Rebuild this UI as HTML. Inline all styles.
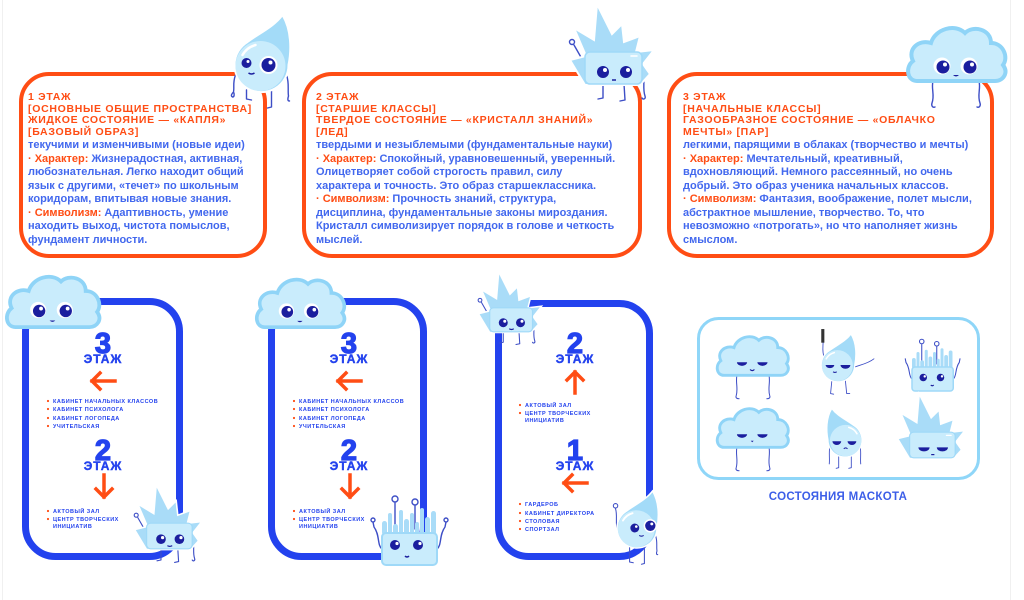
<!DOCTYPE html>
<html><head><meta charset="utf-8">
<style>
html,body{margin:0;padding:0;background:#fff;}
body{width:1024px;height:600px;position:relative;overflow:hidden;font-family:"Liberation Sans","DejaVu Sans",sans-serif;}
svg.main{position:absolute;left:0;top:0;}
.t{position:absolute;white-space:nowrap;}
.h{font-weight:bold;color:#ff4d14;font-size:10.5px;line-height:11.5px;letter-spacing:0.7px;}
.b{font-weight:bold;color:#4268ee;font-size:11px;line-height:13.5px;}
.b span{color:#ff4d14;}
.lm{stroke:#3d4ec6;stroke-width:1.4;fill:none;stroke-linecap:round;stroke-linejoin:round;}
</style></head><body>
<svg class="main" width="1024" height="600" viewBox="0 0 1024 600">
<line x1="2.5" y1="0" x2="2.5" y2="600" stroke="#f0f0f0" stroke-width="1"/>
<line x1="1010.5" y1="0" x2="1010.5" y2="600" stroke="#f0f0f0" stroke-width="1"/>

<!-- cards -->
<g fill="none" stroke="#ff4d14" stroke-width="4">
<rect x="21" y="74" width="244" height="182" rx="28"/>
<rect x="304" y="74" width="336" height="182" rx="28"/>
<rect x="669" y="74" width="323" height="182" rx="28"/>
</g>

<!-- signs -->
<g fill="none" stroke="#2342ee" stroke-width="7">
<rect x="25.5" y="301.5" width="154" height="255" rx="30"/>
<rect x="271.5" y="301.5" width="152" height="255" rx="30"/>
<rect x="498.5" y="303.5" width="151" height="253" rx="30"/>
</g>
<rect x="698.5" y="318.5" width="280" height="160" rx="20" fill="none" stroke="#8fd6f8" stroke-width="3"/>
<text x="838" y="500" font-family="Liberation Sans, sans-serif" font-size="11.5" font-weight="bold" fill="#3c5ee8" text-anchor="middle" letter-spacing="0.3">СОСТОЯНИЯ МАСКОТА</text>

<!-- sign texts -->
<g font-family="Liberation Sans, sans-serif" font-weight="bold" fill="#2342ee" text-anchor="middle">
<g stroke="#2342ee" stroke-width="1.3">
<text x="103" y="353" font-size="29">3</text>
<text x="103" y="460" font-size="29">2</text>
<text x="349" y="353" font-size="29">3</text>
<text x="349" y="460" font-size="29">2</text>
<text x="575" y="353" font-size="29">2</text>
<text x="575" y="460" font-size="29">1</text>
</g>
<g stroke="#2342ee" stroke-width="0.4">
<text x="103" y="363" font-size="12" letter-spacing="1">ЭТАЖ</text>
<text x="103" y="470" font-size="12" letter-spacing="1">ЭТАЖ</text>
<text x="349" y="363" font-size="12" letter-spacing="1">ЭТАЖ</text>
<text x="349" y="470" font-size="12" letter-spacing="1">ЭТАЖ</text>
<text x="575" y="363" font-size="12" letter-spacing="1">ЭТАЖ</text>
<text x="575" y="470" font-size="12" letter-spacing="1">ЭТАЖ</text>
</g>
</g>
<g font-family="Liberation Sans, sans-serif" font-weight="bold" fill="#2342ee" font-size="5.5" letter-spacing="0.5">
<text x="53" y="403">КАБИНЕТ НАЧАЛЬНЫХ КЛАССОВ</text>
<text x="53" y="411">КАБИНЕТ ПСИХОЛОГА</text>
<text x="53" y="420">КАБИНЕТ ЛОГОПЕДА</text>
<text x="53" y="428">УЧИТЕЛЬСКАЯ</text>
<text x="53" y="513">АКТОВЫЙ ЗАЛ</text>
<text x="53" y="521">ЦЕНТР ТВОРЧЕСКИХ</text>
<text x="53" y="528">ИНИЦИАТИВ</text>
<text x="299" y="403">КАБИНЕТ НАЧАЛЬНЫХ КЛАССОВ</text>
<text x="299" y="411">КАБИНЕТ ПСИХОЛОГА</text>
<text x="299" y="420">КАБИНЕТ ЛОГОПЕДА</text>
<text x="299" y="428">УЧИТЕЛЬСКАЯ</text>
<text x="299" y="513">АКТОВЫЙ ЗАЛ</text>
<text x="299" y="521">ЦЕНТР ТВОРЧЕСКИХ</text>
<text x="299" y="528">ИНИЦИАТИВ</text>
<text x="525" y="407">АКТОВЫЙ ЗАЛ</text>
<text x="525" y="415">ЦЕНТР ТВОРЧЕСКИХ</text>
<text x="525" y="422">ИНИЦИАТИВ</text>
<text x="525" y="506">ГАРДЕРОБ</text>
<text x="525" y="515">КАБИНЕТ ДИРЕКТОРА</text>
<text x="525" y="523">СТОЛОВАЯ</text>
<text x="525" y="531">СПОРТЗАЛ</text>
</g>
<g fill="#ff4d14">
<circle cx="48" cy="401" r="1.1"/><circle cx="48" cy="409" r="1.1"/><circle cx="48" cy="418" r="1.1"/><circle cx="48" cy="426" r="1.1"/>
<circle cx="48" cy="511" r="1.1"/><circle cx="48" cy="519" r="1.1"/>
<circle cx="294" cy="401" r="1.1"/><circle cx="294" cy="409" r="1.1"/><circle cx="294" cy="418" r="1.1"/><circle cx="294" cy="426" r="1.1"/>
<circle cx="294" cy="511" r="1.1"/><circle cx="294" cy="519" r="1.1"/>
<circle cx="520" cy="405" r="1.1"/><circle cx="520" cy="413" r="1.1"/>
<circle cx="520" cy="504" r="1.1"/><circle cx="520" cy="513" r="1.1"/><circle cx="520" cy="521" r="1.1"/><circle cx="520" cy="529" r="1.1"/>
</g>
<!-- arrows -->
<g fill="none" stroke="#ff4d14" stroke-width="3.5" stroke-linecap="square">
<path d="M92,381 H115 M100,373 L92,381 L100,389"/>
<path d="M104,475 V497 M96,489 L104,497 L112,489"/>
<path d="M338,381 H361 M346,373 L338,381 L346,389"/>
<path d="M350,475 V497 M342,489 L350,497 L358,489"/>
<path d="M575,372 V393 M567,380 L575,372 L583,380"/>
<path d="M564,483 H587 M572,475 L564,483 L572,491"/>
</g>

<!-- ===== Mascots ===== -->
<!-- drop top (card1) -->
<g transform="translate(261.5,65)">
<g class="lm">
<path d="M-26,10 C-29,18 -27,22 -28,27 c-2,2 -3,4 -1,5 c2,0 2,-3 1,-5"/>
<path d="M25,10 C28,18 26,25 27,31 c-1,3 -1,5 1,5"/>
<path d="M-15,25 L-15,34 l5,1"/>
<path d="M10,26 L10,42 l-4,1"/>
</g>
<path d="M21,-50 C30,-35 30,-15 27,0 A27,27 0 1 1 -14,-23 C-2,-32 12,-38 21,-50Z" fill="#a3dbf8" stroke="#fff" stroke-width="2"/>
<circle cx="-1" cy="1" r="25" fill="#c9ecfc"/>
<path d="M-19,-10 A21,21 0 0 1 -6,-20" stroke="#fff" stroke-width="2.5" fill="none" stroke-linecap="round"/>
<circle cx="-15" cy="-2" r="5" fill="#1b1e9e"/><circle cx="-13.5" cy="-3.5" r="1.5" fill="#fff"/>
<circle cx="7" cy="0" r="9" fill="#fff"/><circle cx="7" cy="0" r="7" fill="#1b1e9e"/><circle cx="9" cy="-2.5" r="2" fill="#fff"/>
<path d="M-13,8 q3,2 6,0" stroke="#1b1e9e" stroke-width="1.5" fill="none"/>
</g>

<!-- crystal top (card2) -->
<g transform="translate(568,3)">
<g class="lm">
<path d="M14,56 L6,42"/><circle cx="4" cy="39" r="2.5"/>
<path d="M35,81 L35,95 l-5,1"/>
<path d="M56,81 L57,97 l-5,1"/>
<path d="M74,66 C78,75 74,85 77,93 c1,3 -2,4 -3,2"/>
</g>
<polygon points="17,82 2,57 18,53 6,25 26,37 29,1 44,31 54,21 56,39 72,33 68,49 86,47 75,61 82,71 72,82" fill="#a9dcf8" stroke="#fff" stroke-width="2"/>
<rect x="17" y="49" width="57" height="32" rx="5" fill="#c9ecfc" stroke="#9fd9f8" stroke-width="1.5"/>
<path d="M63,53 h6" stroke="#fff" stroke-width="1.5" stroke-linecap="round"/>
<circle cx="35" cy="69" r="6" fill="#1b1e9e"/><circle cx="37" cy="67" r="2" fill="#fff"/>
<circle cx="58" cy="69" r="6" fill="#1b1e9e"/><circle cx="60" cy="67" r="2" fill="#fff"/>
<path d="M44,77 h4" stroke="#1b1e9e" stroke-width="1.5"/>
</g>

<!-- cloud top (card3) -->
<g transform="translate(905,23)">
<g class="lm">
<path d="M28,58 c-2,8 2,14 -1,22 c-1,3 1,5 3,4"/>
<path d="M74,58 c2,8 -2,14 1,22 c1,3 -1,5 -3,4"/>
</g>
<path d="M12,58 C2,58 0,44 8,38 C2,26 14,16 26,20 C30,6 50,0 60,10 C68,2 86,6 86,20 C98,20 104,34 98,42 C104,50 98,58 90,58 Z" fill="#c9ecfc" stroke="#8fd4f7" stroke-width="4"/>
<circle cx="37" cy="43" r="8.5" fill="#fff"/><circle cx="38" cy="44" r="6.5" fill="#1b1e9e"/><circle cx="40" cy="41.5" r="2" fill="#fff"/>
<circle cx="64" cy="43" r="8.5" fill="#fff"/><circle cx="65" cy="44" r="6.5" fill="#1b1e9e"/><circle cx="67" cy="41.5" r="2" fill="#fff"/>
<path d="M48,52 q3,3 6,0 z" fill="#1b1e9e"/>
</g>

<!-- cloud sign1 -->
<g transform="translate(4,272) scale(0.95)">
<path d="M12,58 C2,58 0,44 8,38 C2,26 14,16 26,20 C30,6 50,0 60,10 C68,2 86,6 86,20 C98,20 104,34 98,42 C104,50 98,58 90,58 Z" fill="#c9ecfc" stroke="#8fd4f7" stroke-width="4"/>
<circle cx="36" cy="40" r="8.5" fill="#fff"/><circle cx="37" cy="41" r="6.5" fill="#1b1e9e"/><circle cx="39" cy="38.5" r="2" fill="#fff"/>
<circle cx="64" cy="40" r="8.5" fill="#fff"/><circle cx="65" cy="41" r="6.5" fill="#1b1e9e"/><circle cx="67" cy="38.5" r="2" fill="#fff"/>
<path d="M48,51 q3,3 6,0 z" fill="#1b1e9e"/>
</g>
<!-- cloud sign2 -->
<g transform="translate(254,275) scale(0.9)">
<path d="M12,58 C2,58 0,44 8,38 C2,26 14,16 26,20 C30,6 50,0 60,10 C68,2 86,6 86,20 C98,20 104,34 98,42 C104,50 98,58 90,58 Z" fill="#c9ecfc" stroke="#8fd4f7" stroke-width="4"/>
<circle cx="36" cy="40" r="8.5" fill="#fff"/><circle cx="37" cy="41" r="6.5" fill="#1b1e9e"/><circle cx="39" cy="38.5" r="2" fill="#fff"/>
<circle cx="64" cy="40" r="8.5" fill="#fff"/><circle cx="65" cy="41" r="6.5" fill="#1b1e9e"/><circle cx="67" cy="38.5" r="2" fill="#fff"/>
<path d="M48,51 q3,3 6,0 z" fill="#1b1e9e"/>
</g>

<!-- crystal sign1 -->
<g transform="translate(133,484) scale(0.8)">
<g class="lm">
<path d="M14,56 L6,42"/><circle cx="4" cy="39" r="2.5"/>
<path d="M35,81 L35,95 l-5,1"/>
<path d="M56,81 L57,97 l-5,1"/>
<path d="M74,66 C78,75 74,85 77,93 c1,3 -2,4 -3,2"/>
</g>
<polygon points="17,82 2,57 18,53 6,25 26,37 29,1 44,31 54,21 56,39 72,33 68,49 86,47 75,61 82,71 72,82" fill="#a9dcf8" stroke="#fff" stroke-width="2"/>
<rect x="17" y="49" width="57" height="32" rx="5" fill="#c9ecfc" stroke="#9fd9f8" stroke-width="1.5"/>
<circle cx="35" cy="69" r="6" fill="#1b1e9e"/><circle cx="37" cy="67" r="2" fill="#fff"/>
<circle cx="58" cy="69" r="6" fill="#1b1e9e"/><circle cx="60" cy="67" r="2" fill="#fff"/>
<path d="M43,77 q3,2 6,0" stroke="#1b1e9e" stroke-width="1.5" fill="none"/>
</g>

<!-- crystal sign3 -->
<g transform="translate(477,271) scale(0.75)">
<g class="lm">
<path d="M14,56 L6,42"/><circle cx="4" cy="39" r="2.5"/>
<path d="M35,81 L35,95 l-5,1"/>
<path d="M56,81 L57,97 l-5,1"/>
<path d="M74,66 C78,75 74,85 77,93 c1,3 -2,4 -3,2"/>
</g>
<polygon points="17,82 2,57 18,53 6,25 26,37 29,1 44,31 54,21 56,39 72,33 68,49 86,47 75,61 82,71 72,82" fill="#a9dcf8" stroke="#fff" stroke-width="2"/>
<rect x="17" y="49" width="57" height="32" rx="5" fill="#c9ecfc" stroke="#9fd9f8" stroke-width="1.5"/>
<circle cx="35" cy="69" r="6" fill="#1b1e9e"/><circle cx="37" cy="67" r="2" fill="#fff"/>
<circle cx="58" cy="69" r="6" fill="#1b1e9e"/><circle cx="60" cy="67" r="2" fill="#fff"/>
<path d="M43,77 q3,2 6,0" stroke="#1b1e9e" stroke-width="1.5" fill="none"/>
</g>

<!-- ice sign2 -->
<g transform="translate(382,533)">
<g class="lm">
<path d="M13,-6 L13,-30"/><circle cx="13" cy="-34" r="3"/>
<path d="M33,-4 L33,-27"/><circle cx="33" cy="-31" r="3"/>
<path d="M0,16 c-5,-4 -2,-14 -8,-22 l-1,-5"/><circle cx="-9" cy="-13" r="2"/>
<path d="M55,16 c5,-4 2,-14 8,-22 l1,-5"/><circle cx="64" cy="-13" r="2"/>
</g>
<g fill="#a9dcf8">
<rect x="0" y="-12" width="5" height="14" rx="2.5"/>
<rect x="6" y="-20" width="4" height="22" rx="2"/>
<rect x="11" y="-9" width="5" height="11" rx="2.5"/>
<rect x="17" y="-23" width="4" height="25" rx="2"/>
<rect x="22" y="-14" width="5" height="16" rx="2.5"/>
<rect x="28" y="-20" width="4" height="22" rx="2"/>
<rect x="33" y="-11" width="4" height="13" rx="2"/>
<rect x="38" y="-25" width="4" height="27" rx="2"/>
<rect x="43" y="-16" width="5" height="18" rx="2.5"/>
<rect x="49" y="-22" width="5" height="24" rx="2.5"/>
</g>
<rect x="0" y="0" width="55" height="32" rx="4" fill="#c9ecfc" stroke="#9fd9f8" stroke-width="2"/>
<circle cx="13" cy="12" r="5" fill="#1b1e9e"/><circle cx="15" cy="10.5" r="1.6" fill="#fff"/>
<circle cx="36" cy="12" r="5" fill="#1b1e9e"/><circle cx="38" cy="10.5" r="1.6" fill="#fff"/>
<path d="M23,23 q2,2 4,0" stroke="#1b1e9e" stroke-width="1.5" fill="none"/>
</g>

<!-- drop sign3 -->
<g transform="translate(637,528) scale(0.74)">
<g class="lm">
<path d="M-26,4 C-30,-6 -26,-16 -29,-26"/><circle cx="-29" cy="-30" r="3"/>
<path d="M25,10 C28,18 26,25 27,31 c-1,3 -1,5 1,5"/>
<path d="M-10,26 L-10,46 l5,1"/>
<path d="M10,26 L10,48 l-4,1"/>
</g>
<path d="M21,-50 C30,-35 30,-15 27,0 A27,27 0 1 1 -14,-23 C-2,-32 12,-38 21,-50Z" fill="#a3dbf8" stroke="#fff" stroke-width="2"/>
<circle cx="-1" cy="1" r="25" fill="#c9ecfc"/>
<path d="M-19,-10 A21,21 0 0 1 -6,-20" stroke="#fff" stroke-width="2.5" fill="none" stroke-linecap="round"/>
<circle cx="-3" cy="0" r="6" fill="#1b1e9e"/><circle cx="-1" cy="-2" r="1.8" fill="#fff"/>
<circle cx="18" cy="-3" r="9" fill="#fff"/><circle cx="18" cy="-3" r="7" fill="#1b1e9e"/><circle cx="20" cy="-5.5" r="2" fill="#fff"/>
<path d="M3,10 q3,2 6,0" stroke="#1b1e9e" stroke-width="1.5" fill="none"/>
</g>

<!-- box: cloud1 -->
<g transform="translate(715,333) scale(0.73)">
<g class="lm">
<path d="M30,58 c-2,10 2,18 -1,28 c-1,3 1,4 4,4"/>
<path d="M74,58 c2,10 -2,18 1,28 c1,3 -1,4 -4,4"/>
</g>
<path d="M12,58 C2,58 0,44 8,38 C2,26 14,16 26,20 C30,6 50,0 60,10 C68,2 86,6 86,20 C98,20 104,34 98,42 C104,50 98,58 90,58 Z" fill="#c9ecfc" stroke="#8fd4f7" stroke-width="4"/>
<path d="M30,40 a7,5 0 0 0 14,0 z" fill="#1b1e9e"/>
<path d="M58,40 a7,5 0 0 0 14,0 z" fill="#1b1e9e"/>
<path d="M48,50 q3,3 6,0" stroke="#1b1e9e" stroke-width="1.6" fill="none"/>
</g>
<!-- box: cloud2 -->
<g transform="translate(715,405) scale(0.73)">
<g class="lm">
<path d="M30,58 c-2,10 2,18 -1,28 c-1,3 1,4 4,4"/>
<path d="M74,58 c2,10 -2,18 1,28 c1,3 -1,4 -4,4"/>
</g>
<path d="M12,58 C2,58 0,44 8,38 C2,26 14,16 26,20 C30,6 50,0 60,10 C68,2 86,6 86,20 C98,20 104,34 98,42 C104,50 98,58 90,58 Z" fill="#c9ecfc" stroke="#8fd4f7" stroke-width="4"/>
<path d="M30,40 a7,5 0 0 0 14,0 z" fill="#1b1e9e"/>
<path d="M58,40 a7,5 0 0 0 14,0 z" fill="#1b1e9e"/>
<path d="M49,49 l2,2 l2,-2 z" fill="#1b1e9e"/>
</g>

<!-- box: drop1 -->
<g transform="translate(838,365) scale(0.62)">
<g class="lm" stroke-width="2">
<path d="M-22,-12 C-26,-20 -24,-30 -24,-38"/>
<path d="M25,4 C35,0 48,-2 58,-10"/>
<path d="M-10,26 L-12,46 l5,1"/>
<path d="M12,26 L14,46 l5,0"/>
</g>
<rect x="-27" y="-58" width="5" height="22" fill="#333" />
<path d="M21,-50 C30,-35 30,-15 27,0 A27,27 0 1 1 -14,-23 C-2,-32 12,-38 21,-50Z" fill="#a3dbf8" stroke="#fff" stroke-width="2"/>
<circle cx="-1" cy="1" r="25" fill="#c9ecfc"/>
<path d="M-19,-10 A21,21 0 0 1 -6,-20" stroke="#fff" stroke-width="2.5" fill="none" stroke-linecap="round"/>
<path d="M-20,0 a7,5 0 0 0 14,0 z" fill="#1b1e9e"/>
<path d="M4,0 a8,6 0 0 0 16,0 z" fill="#1b1e9e"/>
<path d="M-8,11 q3,2 6,0" stroke="#1b1e9e" stroke-width="1.6" fill="none"/>
</g>

<!-- box: ice1 -->
<g transform="translate(912,367) scale(0.75)">
<g class="lm" stroke-width="1.8">
<path d="M13,-6 L13,-30"/><circle cx="13" cy="-34" r="3"/>
<path d="M33,-4 L33,-27"/><circle cx="33" cy="-31" r="3"/>
<path d="M0,16 c-5,-4 -2,-14 -8,-22 l-1,-5"/>
<path d="M55,16 c5,-4 2,-14 8,-22 l1,-5"/>
</g>
<g fill="#a9dcf8">
<rect x="0" y="-12" width="5" height="14" rx="2.5"/>
<rect x="6" y="-20" width="4" height="22" rx="2"/>
<rect x="11" y="-9" width="5" height="11" rx="2.5"/>
<rect x="17" y="-23" width="4" height="25" rx="2"/>
<rect x="22" y="-14" width="5" height="16" rx="2.5"/>
<rect x="28" y="-20" width="4" height="22" rx="2"/>
<rect x="33" y="-11" width="4" height="13" rx="2"/>
<rect x="38" y="-25" width="4" height="27" rx="2"/>
<rect x="43" y="-16" width="5" height="18" rx="2.5"/>
<rect x="49" y="-22" width="5" height="24" rx="2.5"/>
</g>
<rect x="0" y="0" width="55" height="32" rx="4" fill="#c9ecfc" stroke="#9fd9f8" stroke-width="2"/>
<circle cx="15" cy="14" r="5" fill="#1b1e9e"/><circle cx="17" cy="12.5" r="1.6" fill="#fff"/>
<circle cx="38" cy="14" r="5" fill="#1b1e9e"/><circle cx="40" cy="12.5" r="1.6" fill="#fff"/>
<path d="M25,24 q2,2 4,0" stroke="#1b1e9e" stroke-width="1.5" fill="none"/>
</g>

<!-- box: drop2 sad (mirrored) -->
<g transform="translate(845,440) scale(-0.63,0.63)">
<g class="lm" stroke-width="2">
<path d="M-24,10 C-26,20 -24,30 -25,38"/>
<path d="M24,10 C26,20 24,30 25,38"/>
<path d="M-10,26 L-10,44 l4,1"/>
<path d="M10,26 L10,44 l4,1"/>
</g>
<path d="M21,-50 C30,-35 30,-15 27,0 A27,27 0 1 1 -14,-23 C-2,-32 12,-38 21,-50Z" fill="#a3dbf8" stroke="#fff" stroke-width="2"/>
<circle cx="-1" cy="1" r="25" fill="#c9ecfc"/>
<path d="M-19,-10 A21,21 0 0 1 -6,-20" stroke="#fff" stroke-width="2.5" fill="none" stroke-linecap="round"/>
<path d="M-18,2 a7,6 0 0 0 14,0 z" fill="#1b1e9e"/>
<path d="M6,2 a7,6 0 0 0 14,0 z" fill="#1b1e9e"/>
<path d="M-4,14 q3,-3 6,0" stroke="#1b1e9e" stroke-width="1.6" fill="none"/>
</g>

<!-- box: crystal2 sleepy -->
<g transform="translate(896,393) scale(0.8)">
<polygon points="17,82 2,57 18,53 6,25 26,37 29,1 44,31 54,21 56,39 72,33 68,49 86,47 75,61 82,71 72,82" fill="#a9dcf8" stroke="#fff" stroke-width="2"/>
<rect x="17" y="49" width="57" height="32" rx="5" fill="#c9ecfc" stroke="#9fd9f8" stroke-width="1.5"/>
<path d="M63,53 h6" stroke="#fff" stroke-width="1.5" stroke-linecap="round"/>
<path d="M28,68 a7,5 0 0 0 14,0 z" fill="#1b1e9e"/>
<path d="M51,68 a7,5 0 0 0 14,0 z" fill="#1b1e9e"/>
<path d="M44,77 h4" stroke="#1b1e9e" stroke-width="1.5"/>
</g>
</svg>

<!-- card texts -->
<div class="t h" style="left:28px;top:92px">1 ЭТАЖ<br>[ОСНОВНЫЕ ОБЩИЕ ПРОСТРАНСТВА]<br>ЖИДКОЕ СОСТОЯНИЕ — «КАПЛЯ»<br>[БАЗОВЫЙ ОБРАЗ]</div>
<div class="t b" style="left:28px;top:139px">текучими и изменчивыми (новые идеи)<br><span>· Характер:</span> Жизнерадостная, активная,<br>любознательная. Легко находит общий<br>язык с другими, «течет» по школьным<br>коридорам, впитывая новые знания.<br><span>· Символизм:</span> Адаптивность, умение<br>находить выход, чистота помыслов,<br>фундамент личности.</div>

<div class="t h" style="left:316px;top:92px">2 ЭТАЖ<br>[СТАРШИЕ КЛАССЫ]<br>ТВЕРДОЕ СОСТОЯНИЕ — «КРИСТАЛЛ ЗНАНИЙ»<br>[ЛЕД]</div>
<div class="t b" style="left:316px;top:139px">твердыми и незыблемыми (фундаментальные науки)<br><span>· Характер:</span> Спокойный, уравновешенный, уверенный.<br>Олицетворяет собой строгость правил, силу<br>характера и точность. Это образ старшеклассника.<br><span>· Символизм:</span> Прочность знаний, структура,<br>дисциплина, фундаментальные законы мироздания.<br>Кристалл символизирует порядок в голове и четкость<br>мыслей.</div>

<div class="t h" style="left:683px;top:92px">3 ЭТАЖ<br>[НАЧАЛЬНЫЕ КЛАССЫ]<br>ГАЗООБРАЗНОЕ СОСТОЯНИЕ — «ОБЛАЧКО<br>МЕЧТЫ» [ПАР]</div>
<div class="t b" style="left:683px;top:139px">легкими, парящими в облаках (творчество и мечты)<br><span>· Характер:</span> Мечтательный, креативный,<br>вдохновляющий. Немного рассеянный, но очень<br>добрый. Это образ ученика начальных классов.<br><span>· Символизм:</span> Фантазия, воображение, полет мысли,<br>абстрактное мышление, творчество. То, что<br>невозможно «потрогать», но что наполняет жизнь<br>смыслом.</div>
</body></html>
